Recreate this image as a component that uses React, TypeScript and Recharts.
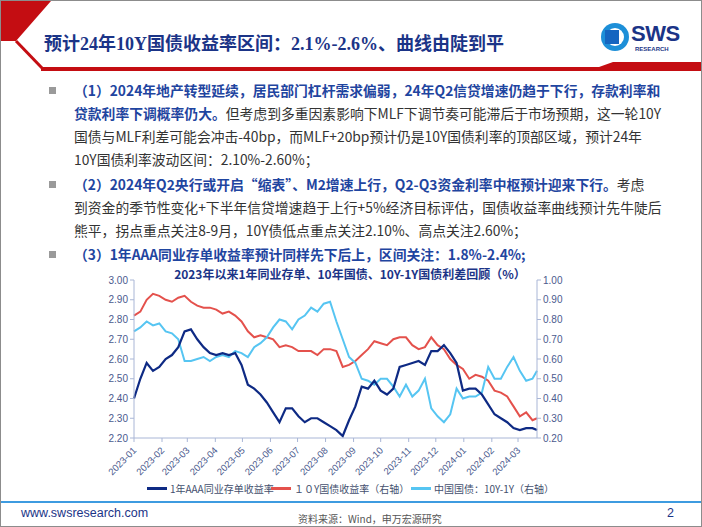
import { LineChart, Line, XAxis, YAxis } from 'recharts'

const dates = [
  '2023-01-01', '2023-01-08', '2023-01-15', '2023-01-22', '2023-01-29',
  '2023-02-05', '2023-02-12', '2023-02-19', '2023-02-26',
  '2023-03-05', '2023-03-12', '2023-03-19', '2023-03-26',
  '2023-04-02', '2023-04-09', '2023-04-16', '2023-04-23', '2023-04-30',
  '2023-05-07', '2023-05-14', '2023-05-21', '2023-05-28',
  '2023-06-04', '2023-06-11', '2023-06-18', '2023-06-25',
  '2023-07-02', '2023-07-09', '2023-07-16', '2023-07-23', '2023-07-30',
  '2023-08-06', '2023-08-13', '2023-08-20', '2023-08-27',
  '2023-09-03', '2023-09-10', '2023-09-17', '2023-09-24',
  '2023-10-01', '2023-10-08', '2023-10-15', '2023-10-22', '2023-10-29',
  '2023-11-05', '2023-11-12', '2023-11-19', '2023-11-26',
  '2023-12-03', '2023-12-10', '2023-12-17', '2023-12-24', '2023-12-31',
  '2024-01-07', '2024-01-14', '2024-01-21', '2024-01-28',
  '2024-02-04', '2024-02-11', '2024-02-18', '2024-02-25',
  '2024-03-03', '2024-03-10', '2024-03-17', '2024-03-22',
]

// 1年AAA同业存单收益率 (左轴)
const ncd1y = [
  2.40, 2.50, 2.58, 2.54, 2.56, 2.60, 2.62, 2.66, 2.74, 2.75,
  2.70, 2.66, 2.63, 2.62, 2.63, 2.62, 2.63, 2.57, 2.47, 2.45,
  2.42, 2.38, 2.33, 2.28, 2.35, 2.35, 2.31, 2.28, 2.30, 2.30,
  2.28, 2.26, 2.24, 2.21, 2.29, 2.36, 2.46, 2.45, 2.49, 2.44,
  2.42, 2.45, 2.56, 2.57, 2.58, 2.59, 2.57, 2.64, 2.64, 2.67,
  2.63, 2.58, 2.44, 2.45, 2.45, 2.42, 2.37, 2.32, 2.30, 2.28,
  2.25, 2.24, 2.25, 2.25, 2.24,
]

// 10Y国债收益率 (左轴)
const cgb10y = [
  2.82, 2.84, 2.90, 2.93, 2.92, 2.90, 2.89, 2.91, 2.92, 2.89,
  2.87, 2.86, 2.86, 2.85, 2.83, 2.84, 2.82, 2.79, 2.74, 2.71,
  2.72, 2.71, 2.70, 2.66, 2.67, 2.66, 2.64, 2.64, 2.64, 2.62,
  2.65, 2.65, 2.64, 2.56, 2.57, 2.59, 2.62, 2.65, 2.69, 2.68,
  2.67, 2.70, 2.71, 2.71, 2.67, 2.65, 2.66, 2.71, 2.67, 2.65,
  2.60, 2.57, 2.55, 2.50, 2.52, 2.51, 2.49, 2.44, 2.43, 2.41,
  2.36, 2.31, 2.33, 2.29, 2.30,
]

// 中国国债：10Y-1Y (右轴)
const spread = [
  0.74, 0.76, 0.79, 0.77, 0.78, 0.74, 0.73, 0.70, 0.59, 0.59,
  0.60, 0.61, 0.59, 0.61, 0.62, 0.61, 0.64, 0.63, 0.61, 0.66,
  0.68, 0.71, 0.76, 0.80, 0.79, 0.75, 0.80, 0.82, 0.86, 0.84,
  0.88, 0.89, 0.79, 0.70, 0.61, 0.58, 0.50, 0.49, 0.47, 0.50,
  0.50, 0.46, 0.41, 0.47, 0.41, 0.44, 0.50, 0.35, 0.31, 0.28,
  0.32, 0.45, 0.40, 0.41, 0.41, 0.43, 0.56, 0.50, 0.50, 0.56,
  0.61, 0.54, 0.49, 0.50, 0.54,
]

const monthLabels = [
  '2023-01', '2023-02', '2023-03', '2023-04', '2023-05', '2023-06', '2023-07', '2023-08',
  '2023-09', '2023-10', '2023-11', '2023-12', '2024-01', '2024-02', '2024-03',
]
const leftTicks = [2.2, 2.3, 2.4, 2.5, 2.6, 2.7, 2.8, 2.9, 3.0]
const rightTicks = [0.2, 0.3, 0.4, 0.5, 0.6, 0.7, 0.8, 0.9, 1.0]

const dayOf = (s: string) => Math.round((Date.parse(s) - Date.parse('2023-01-01')) / 86400000)
const tickDays = monthLabels.map((m) => dayOf(m + '-01'))
const data = dates.map((d, i) => ({ day: dayOf(d), ncd: ncd1y[i], cgb: cgb10y[i], spread: spread[i] }))

const NAVY = '#0e2a84'
const RED = '#e4514c'
const SKY = '#56c5f2'
const AXIS = '#a9b6d6'
const TICK = '#4b5a8e'
const CJK = "'Noto Sans CJK SC', 'Noto Sans', sans-serif"

function MonthTick({ x, y, payload }: any) {
  const label = monthLabels[tickDays.indexOf(payload.value)]
  return (
    <text x={x + 3} y={y + 7} transform={`rotate(-45 ${x + 3} ${y + 7})`} textAnchor="end"
      fontSize={9.5} fill={TICK} fontFamily="'Liberation Sans', Arial, sans-serif">
      {label}
    </text>
  )
}

const blue = { color: '#1f45a0', fontWeight: 700 }

function TextLine({ top, children }: { top: number; children: any }) {
  return (
    <div style={{ position: 'absolute', left: 73, top, whiteSpace: 'nowrap', fontSize: 13.8, lineHeight: '20px', color: '#333' }}>
      {children}
    </div>
  )
}

function Bullet({ top }: { top: number }) {
  return <div style={{ position: 'absolute', left: 48, top, width: 7, height: 7, background: '#9a9a9a' }} />
}

function LegendItem({ left, color, label }: { left: number; color: string; label: string }) {
  return (
    <div style={{ position: 'absolute', left, top: 480, display: 'flex', alignItems: 'center', whiteSpace: 'nowrap' }}>
      <div style={{ width: 20, height: 3, background: color, marginRight: 3 }} />
      <span style={{ fontSize: 10, color: '#44506e' }}>{label}</span>
    </div>
  )
}

export default function App() {
  return (
    <div style={{ position: 'relative', width: 700, height: 525, border: '1px solid #8c8c8c', background: '#fff', fontFamily: CJK, overflow: 'hidden' }}>
      <style>{'body{margin:0}'}</style>

      <svg width={702} height={72} style={{ position: 'absolute', left: 0, top: 0 }}>
        <polygon points="0,0 50,0 15,40 0,40" fill="#c40d12" />
        <polyline points="15,40 41,67" stroke="#c40d12" strokeWidth={3} fill="none" />
        <polygon points="40,66 598,66 612,61 702,61 702,70 40,70" fill="#c40d12" />
      </svg>

      <div style={{ position: 'absolute', left: 43, top: 28, fontSize: 18, fontWeight: 700, color: '#1b3487', whiteSpace: 'nowrap',
        fontFamily: "'Liberation Serif', 'Noto Sans CJK SC', serif" }}>
        预计24年10Y国债收益率区间：2.1%-2.6%、曲线由陡到平
      </div>

      <svg width={30} height={40} style={{ position: 'absolute', left: 600, top: 16 }}>
        <circle cx={14} cy={20} r={14} fill="#1d8fd8" />
        <circle cx={14} cy={20} r={9} fill="#fff" />
        <rect x={4} y={13} width={14} height={14} fill="#1565c0" />
      </svg>
      <div style={{ position: 'absolute', left: 630, top: 20, fontSize: 22, fontWeight: 700, color: '#1b3487', fontFamily: "'Liberation Sans', Arial, sans-serif", letterSpacing: -0.5 }}>
        SWS
      </div>
      <div style={{ position: 'absolute', left: 634, top: 45, fontSize: 6, fontWeight: 700, color: '#1b3487', fontFamily: "'Liberation Sans', Arial, sans-serif" }}>
        RESEARCH
      </div>

      <Bullet top={86} />
      <TextLine top={79}><span style={blue}>（1）2024年地产转型延续，居民部门杠杆需求偏弱，24年Q2信贷增速仍趋于下行，存款利率和</span></TextLine>
      <TextLine top={102}><span style={blue}>贷款利率下调概率仍大。</span>但考虑到多重因素影响下MLF下调节奏可能滞后于市场预期，这一轮10Y</TextLine>
      <TextLine top={125}>国债与MLF利差可能会冲击-40bp，而MLF+20bp预计仍是10Y国债利率的顶部区域，预计24年</TextLine>
      <TextLine top={148}>10Y国债利率波动区间：2.10%-2.60%；</TextLine>

      <Bullet top={180} />
      <TextLine top={173}><span style={blue}>（2）2024年Q2央行或开启“缩表”、M2增速上行，Q2-Q3资金利率中枢预计迎来下行。</span>考虑</TextLine>
      <TextLine top={196}>到资金的季节性变化+下半年信贷增速趋于上行+5%经济目标评估，国债收益率曲线预计先牛陡后</TextLine>
      <TextLine top={219}>熊平，拐点重点关注8-9月，10Y债低点重点关注2.10%、高点关注2.60%；</TextLine>

      <Bullet top={250} />
      <TextLine top={243}><span style={blue}>（3）1年AAA同业存单收益率预计同样先下后上，区间关注：1.8%-2.4%;</span></TextLine>

      <div style={{ position: 'absolute', left: 0, top: 264, width: 702, textAlign: 'center', fontSize: 12, fontWeight: 700, color: '#1b3487' }}>
        <span style={{ position: 'relative', left: -2 }}>2023年以来1年同业存单、10年国债、10Y-1Y国债利差回顾（%）</span>
      </div>

      <div style={{ position: 'absolute', left: 0, top: 260 }}>
        <LineChart width={702} height={230} data={data} margin={{ top: 19, right: 126, bottom: 13, left: 93 }}>
          <XAxis dataKey="day" type="number" domain={[0, 446]} ticks={tickDays} interval={0}
            stroke={AXIS} tickSize={4} height={40} tick={<MonthTick />} />
          <YAxis yAxisId="left" orientation="left" domain={[2.2, 3.0]} ticks={leftTicks} width={40}
            stroke={AXIS} tickSize={4} tick={{ fontSize: 10, fill: TICK, fontFamily: "'Liberation Sans', Arial, sans-serif" }}
            tickFormatter={(v: number) => v.toFixed(2)} />
          <YAxis yAxisId="right" orientation="right" domain={[0.2, 1.0]} ticks={rightTicks} width={40}
            stroke={AXIS} tickSize={4} tick={{ fontSize: 10, fill: TICK, fontFamily: "'Liberation Sans', Arial, sans-serif" }}
            tickFormatter={(v: number) => v.toFixed(2)} />
          <Line yAxisId="left" dataKey="cgb" stroke={RED} strokeWidth={2} dot={false} isAnimationActive={false} type="linear" />
          <Line yAxisId="right" dataKey="spread" stroke={SKY} strokeWidth={2} dot={false} isAnimationActive={false} type="linear" />
          <Line yAxisId="left" dataKey="ncd" stroke={NAVY} strokeWidth={2.2} dot={false} isAnimationActive={false} type="linear" />
        </LineChart>
      </div>

      <LegendItem left={146} color={NAVY} label="1年AAA同业存单收益率" />
      <LegendItem left={270} color={RED} label="１０Y国债收益率（右轴）" />
      <LegendItem left={410} color={SKY} label="中国国债：10Y-1Y（右轴）" />

      <div style={{ position: 'absolute', left: 0, top: 500, width: 702, height: 2, background: '#3d9be0' }} />
      <div style={{ position: 'absolute', left: 20, top: 505, fontSize: 12.5, color: '#1b3487', fontFamily: "'Liberation Sans', Arial, sans-serif" }}>
        www.swsresearch.com
      </div>
      <div style={{ position: 'absolute', left: 297, top: 510, fontSize: 10, color: '#555' }}>
        资料来源：Wind，申万宏源研究
      </div>
      <div style={{ position: 'absolute', left: 666, top: 505, fontSize: 12.5, color: '#1b3487', fontFamily: "'Liberation Sans', Arial, sans-serif" }}>
        2
      </div>
    </div>
  )
}
